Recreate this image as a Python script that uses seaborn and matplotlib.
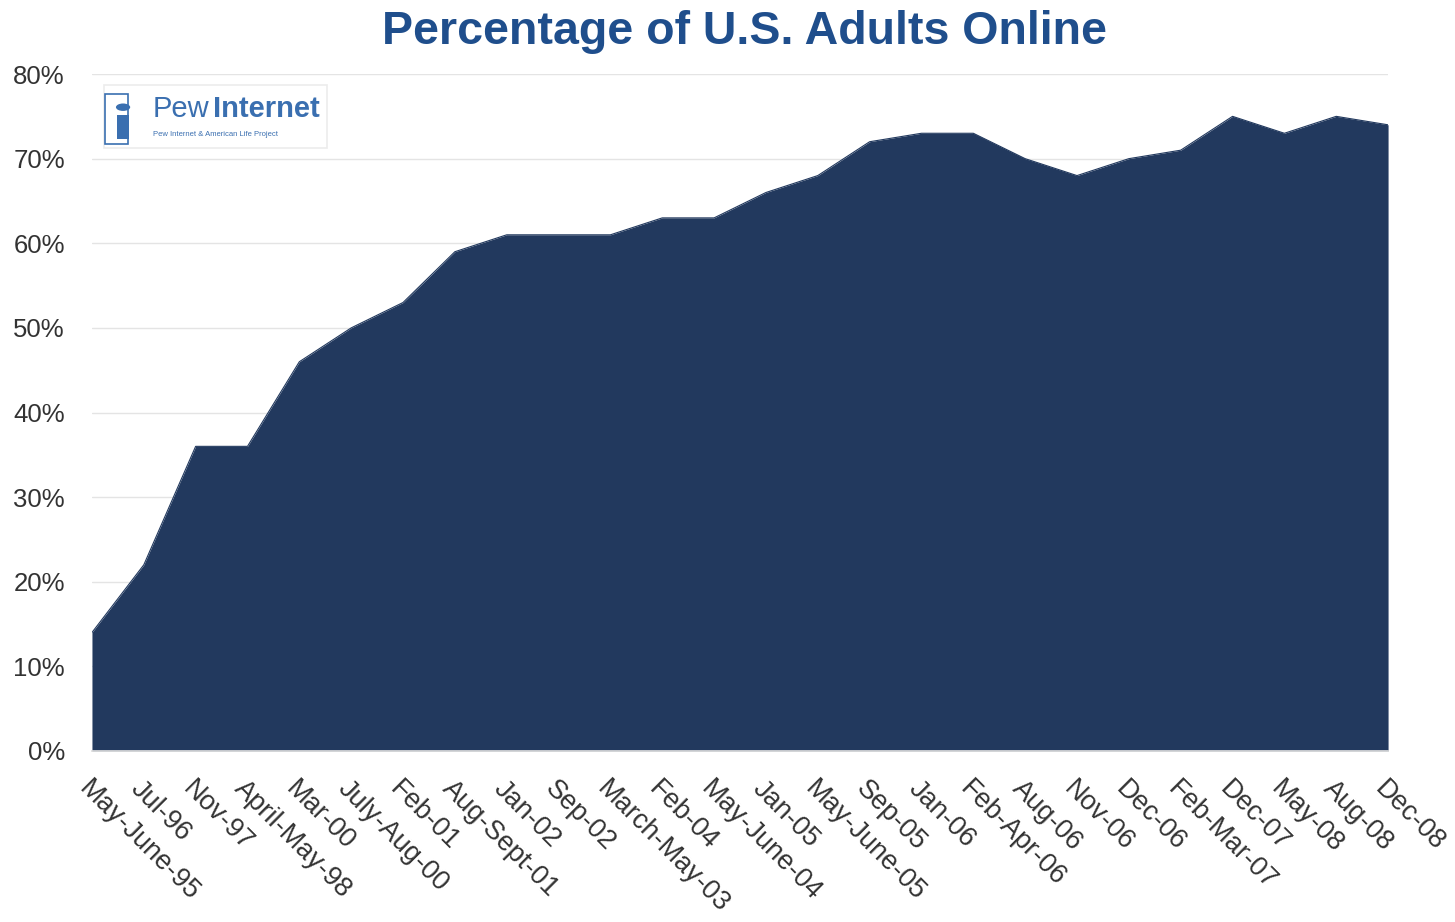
import matplotlib
matplotlib.use("Agg")
import matplotlib.pyplot as plt
import seaborn as sns
import pandas as pd
from matplotlib.ticker import MultipleLocator, PercentFormatter
from matplotlib.patches import Rectangle, Circle

periods = ["May-June-95", "Jul-96", "Nov-97", "April-May-98", "Mar-00", "July-Aug-00",
           "Feb-01", "Aug-Sept-01", "Jan-02", "Sep-02", "March-May-03", "Feb-04",
           "May-June-04", "Jan-05", "May-June-05", "Sep-05", "Jan-06", "Feb-Apr-06",
           "Aug-06", "Nov-06", "Dec-06", "Feb-Mar-07", "Dec-07", "May-08", "Aug-08", "Dec-08"]
pct_online = [14, 22, 36, 36, 46, 50, 53, 59, 61, 61, 61, 63, 63, 66, 68, 72, 73, 73,
              70, 68, 70, 71, 75, 73, 75, 74]

df = pd.DataFrame({"pos": range(len(periods)), "pct": pct_online})

sns.set_theme(style="white")
plt.rcParams["font.family"] = ["Liberation Sans", "DejaVu Sans"]

fig = plt.figure(figsize=(14.55, 9.22), dpi=100)
ax = fig.add_axes([0.0632, 0.1855, 0.8908, 0.7342])

fill_color = "#22395e"
sns.lineplot(data=df, x="pos", y="pct", ax=ax, color=fill_color, linewidth=0.8)
ax.fill_between(df["pos"], df["pct"], 0, color=fill_color, linewidth=0, zorder=2)

ax.set_xlim(0, len(periods) - 1)
ax.set_ylim(0, 80)
ax.yaxis.set_major_locator(MultipleLocator(10))
ax.yaxis.set_minor_locator(MultipleLocator(5))
ax.yaxis.set_major_formatter(PercentFormatter(decimals=0))
ax.grid(axis="y", which="major", color="#e4e4e4", linewidth=1.0, zorder=0)
ax.set_axisbelow(True)
for s in ["top", "right", "left"]:
    ax.spines[s].set_visible(False)
ax.spines["bottom"].set_color("#dddddd")

ax.set_xticks(df["pos"])
ax.set_xticklabels(periods, rotation=-45, ha="left", va="top",
                   rotation_mode="anchor", fontsize=19.5, color="#333333")
ax.tick_params(axis="x", direction="out", length=17, width=0.8, color="#e0e0e0", pad=1)
ax.tick_params(axis="y", which="major", direction="out", length=17, width=0.8,
               color="#e6e6e6", labelsize=18.5, labelcolor="#333333", pad=2.5)
ax.tick_params(axis="y", which="minor", direction="out", length=6, width=0.8,
               color="#e6e6e6")
ax.set_xlabel("")
ax.set_ylabel("")

fig.text(0.5115, 0.965, "Percentage of U.S. Adults Online", ha="center", va="center",
         fontsize=33.5, fontweight="bold", color="#1f4e8c")

# Pew Internet badge
ax.add_patch(Rectangle((0.009, 0.89), 0.172, 0.094, transform=ax.transAxes,
                       facecolor="white", edgecolor="#ececec", linewidth=1.2, zorder=5))
ax.text(0.047, 0.948, "Pew", transform=ax.transAxes, fontsize=21, color="#3a6fb0",
        ha="left", va="center", zorder=6)
ax.text(0.0935, 0.948, "Internet", transform=ax.transAxes, fontsize=21, color="#3a6fb0",
        fontweight="bold", ha="left", va="center", zorder=6)
ax.text(0.047, 0.911, "Pew Internet & American Life Project", transform=ax.transAxes,
        fontsize=5.5, color="#3a6fb0", ha="left", va="center", zorder=6)
ax.add_patch(Rectangle((0.010, 0.897), 0.018, 0.074, transform=ax.transAxes,
                       facecolor="none", edgecolor="#3a6fb0", linewidth=1.2, zorder=6))
ax.add_patch(Rectangle((0.0195, 0.904), 0.009, 0.035, transform=ax.transAxes,
                       facecolor="#3a6fb0", edgecolor="none", zorder=6))
ax.add_patch(Circle((0.024, 0.951), 0.0055, transform=ax.transAxes,
                    facecolor="#3a6fb0", edgecolor="none", zorder=6))

fig.savefig("out.png", dpi=100, facecolor="white")
